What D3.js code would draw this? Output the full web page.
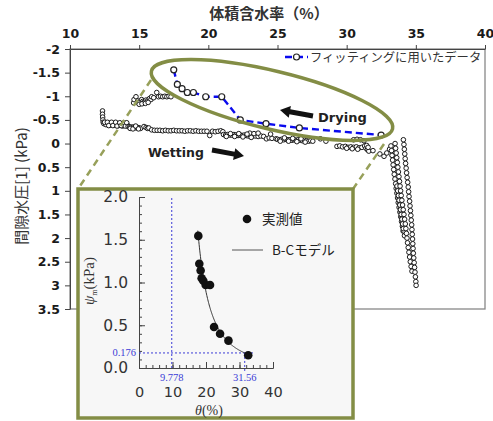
<!DOCTYPE html>
<html>
<head>
<meta charset="utf-8">
<script src="https://cdn.jsdelivr.net/npm/d3@7"></script>
<style>
  body { margin: 0; background: #fff; }
  svg text { font-family: "DejaVu Sans", sans-serif; }
  .jp { font-family: "Noto Sans CJK JP", sans-serif; }
  .serif { font-family: "Liberation Serif", "DejaVu Serif", serif; }
</style>
</head>
<body>
<svg id="chart" width="493" height="421"></svg>
<script>
// ---- data ----
var thetaTicks = [10, 15, 20, 25, 30, 35, 40];
var pressureTicks = [-2, -1.5, -1, -0.5, 0, 0.5, 1, 1.5, 2, 2.5, 3, 3.5];

// points used for the fitting (blue dashed line)
var fitTheta = [17.5, 17.76, 18.1, 18.48, 18.92, 19.81, 20.97, 22.31, 24.17, 26.58, 32.49];
var fitPressure = [-1.56, -1.25, -1.16, -1.08, -1.08, -0.99, -0.99, -0.50, -0.42, -0.33, -0.18];

// measured data (theta %, pore pressure kPa)
var startStack = [[12.35,-0.69],[12.35,-0.62],[12.36,-0.56],[12.38,-0.50],[12.4,-0.45]];
var lowBand = [[12.45,-0.42],[12.55,-0.43],[12.65,-0.42],[12.75,-0.41],[12.85,-0.43],[12.95,-0.42],
  [13.05,-0.41],[13.15,-0.42],[13.25,-0.43],[13.35,-0.41],[13.45,-0.42],[13.55,-0.40],[13.65,-0.42],
  [13.75,-0.41],[13.85,-0.40],[13.95,-0.41],[14.05,-0.42],[14.15,-0.39],[12.6,-0.40],[12.9,-0.39],
  [13.2,-0.39],[13.5,-0.38],[13.8,-0.37],
  [12.5,-0.45],[12.7,-0.45],[12.8,-0.38],[13.0,-0.45],[13.1,-0.38],[13.3,-0.45],[13.4,-0.37],
  [13.6,-0.44],[13.7,-0.38],[13.9,-0.44],[14.0,-0.37],[14.1,-0.44]];
var midBand = [[14.2,-0.36],[14.3,-0.35],[14.4,-0.35],[14.5,-0.34],[14.6,-0.35],[14.7,-0.34],[14.8,-0.33],
  [14.9,-0.34],[15.0,-0.33],[15.1,-0.32],[15.35,-0.36],[15.5,-0.34],[15.6,-0.32],[15.7,-0.33],
  [15.9,-0.29],[16.1,-0.28],[14.35,-0.32],[14.55,-0.31],[14.75,-0.37],[14.95,-0.31]];
var longBand = [[16.3,-0.28],[16.5,-0.28],[16.7,-0.27],[16.9,-0.28],[17.1,-0.27],[17.3,-0.27],[17.5,-0.28],
  [17.7,-0.27],[17.9,-0.27],[18.1,-0.27],[18.3,-0.26],[18.5,-0.27],[18.7,-0.27],[18.9,-0.26],[19.1,-0.27],
  [19.3,-0.26],[19.5,-0.26],[19.7,-0.26],[19.9,-0.26],[20.1,-0.17],[20.3,-0.26],[20.5,-0.25],[20.7,-0.26],
  [20.9,-0.27],[21.05,-0.25]];
var band2 = [[21.1,-0.19],[21.25,-0.18],[21.4,-0.19],[21.55,-0.18],[21.7,-0.18],[21.85,-0.19],[22.0,-0.18],
  [22.15,-0.17],[22.3,-0.18],[22.45,-0.17],[22.6,-0.18],[22.75,-0.17],[22.9,-0.16],[23.05,-0.17],[23.2,-0.16],
  [23.4,-0.16],[23.6,-0.15],[23.8,-0.16],[24.0,-0.15],[24.2,-0.10],[24.4,-0.12],[24.6,-0.11],[24.9,-0.10],
  [23.0,-0.22],[23.3,-0.21],[23.6,-0.22],[24.5,-0.20],
  [21.3,-0.15],[21.6,-0.21],[21.9,-0.15],[22.2,-0.21],[22.5,-0.14],[22.8,-0.20],[23.1,-0.13]];
var band3 = [[25.0,-0.09],[25.15,-0.08],[25.3,-0.09],[25.45,-0.08],[25.6,-0.09],[25.75,-0.08],[25.9,-0.08],
  [26.05,-0.07],[26.2,-0.08],[26.35,-0.07],[26.5,-0.08],[26.65,-0.07],[26.8,-0.06],[26.95,-0.07],[27.1,-0.06],
  [27.25,-0.05],[27.4,-0.06],[27.55,-0.05],[28.1,-0.10],[28.5,-0.05],
  [25.2,-0.05],[25.5,-0.12],[25.8,-0.05],[26.1,-0.11],[26.4,-0.04],[26.7,-0.10],[27.0,-0.03]];
var band4 = [[29.3,0.06],[29.5,0.05],[29.7,0.07],[29.9,0.06],[30.1,0.08],[30.3,0.07],[30.5,0.08],[30.7,0.07],
  [30.9,0.09],[31.1,0.08],[31.3,0.05],[31.4,0.10],[31.5,0.13],[31.6,0.16],[31.9,0.15],
  [30.5,-0.08],[30.75,-0.09],[31.0,-0.08],[31.25,-0.06],
  [30.0,0.10],[30.4,0.11],[30.8,0.12],[31.45,0.04],[31.55,0.08],
  [32.4,0.22],[32.7,0.27],[32.9,0.20],[33.1,0.12],[33.3,0.25]];
var upperStep = [[14.6,-0.86],[14.63,-0.93],[14.77,-0.99],[14.9,-0.90],[14.95,-0.86],[15.05,-0.88],[15.18,-0.93],
  [15.25,-0.89],[15.3,-0.86],[15.4,-0.88],[15.5,-0.92],[15.6,-0.90],[15.74,-0.95],[15.85,-0.93],[15.9,-0.99],
  [16.05,-0.97],[16.27,-1.08],[16.4,-0.99],[16.55,-1.0],[16.7,-0.99],[16.85,-1.0],[17.0,-0.99],[17.15,-1.0],
  [17.3,-0.99],[15.0,-0.83],[15.2,-0.84],[15.45,-0.85],[15.65,-0.87]];
var stripLeft = [[33.20,0.05],[33.24,0.15],[33.28,0.25],[33.32,0.35],[33.36,0.45],[33.40,0.55],[33.44,0.65],
  [33.49,0.75],[33.54,0.85],[33.58,0.95],[33.63,1.05],[33.68,1.15],[33.73,1.25],[33.79,1.35],[33.85,1.45],
  [33.91,1.55],[33.97,1.65],[34.03,1.75],[34.08,1.85],
  [33.70,0.95],[33.75,1.05],[33.80,1.15],[33.85,1.25],[33.90,1.35],[33.95,1.45],[34.00,1.55],[34.05,1.65],
  [34.10,1.75],[34.14,1.85],[34.18,1.95],
  [33.64,0.90],[33.69,1.00],[33.74,1.10],[33.79,1.20],[33.84,1.30],[33.89,1.40],[33.94,1.50],[33.99,1.60],
  [34.04,1.70],[34.09,1.80]];
var stripMid = [[33.50,0.00],[33.54,0.10],[33.58,0.20],[33.62,0.30],[33.66,0.40],[33.70,0.50],[33.74,0.60],
  [33.78,0.70],[33.82,0.80],[33.86,0.90],[33.90,1.00],[33.94,1.10],[33.99,1.20],[34.04,1.30],[34.09,1.40],
  [34.14,1.50],[34.19,1.60],[34.24,1.70],[34.28,1.80],[34.32,1.90],[34.36,2.00],[34.40,2.10],[34.45,2.20],
  [34.50,2.30],[34.55,2.40],[34.60,2.50],[34.66,2.60],[34.72,2.70]];
var stripRight = [[34.10,-0.08],[34.14,0.02],[34.17,0.12],[34.20,0.22],[34.23,0.32],[34.26,0.42],[34.30,0.52],
  [34.33,0.62],[34.37,0.72],[34.41,0.82],[34.45,0.92],[34.48,1.02],[34.51,1.12],[34.55,1.22],[34.58,1.32],
  [34.61,1.42],[34.64,1.52],[34.67,1.62],[34.70,1.72],[34.72,1.82],[34.74,1.92],[34.76,2.02],[34.78,2.12],
  [34.80,2.22],[34.82,2.32],[34.85,2.42],[34.88,2.52],[34.91,2.62],[34.94,2.72],[34.97,2.82],[35.00,2.92],
  [35.02,3.00]];

// inset (suction vs theta)
var insetTheta = [17.7, 18.0, 18.4, 18.7, 19.2, 19.9, 21.2, 22.4, 24.2, 26.7, 32.6];
var insetPsi = [1.545, 1.22, 1.14, 1.05, 1.02, 0.97, 0.97, 0.48, 0.40, 0.32, 0.15];
var insetXTicks = [0, 10, 20, 30, 40];
var insetYTicks = [0, 0.5, 1.0, 1.5, 2.0];
// Brooks-Corey parameters shown in the inset
var psiB = 0.176, thetaR = 9.778, thetaS = 31.56, lambda = 0.466;

var olive = "#838d45";

var svg = d3.select("#chart");

var x = d3.scaleLinear().domain([10, 40]).range([70, 485]);
var y = d3.scaleLinear().domain([-2, 3.5]).range([49, 309]);

// plot frame
svg.append("rect")
  .attr("x", 70).attr("y", 49).attr("width", 415).attr("height", 260)
  .attr("fill", "none").attr("stroke", "#888").attr("stroke-width", 1.3);

// top axis
var topAxis = svg.append("g")
  .attr("transform", "translate(0,49)")
  .call(d3.axisTop(x).tickValues(thetaTicks).tickSize(4).tickSizeOuter(0).tickPadding(7).tickFormat(d => String(d)));
topAxis.selectAll("text").attr("font-size", 12.5).attr("font-weight", "bold").attr("fill", "#1a1a1a")
  .attr("font-family", "DejaVu Sans");
topAxis.selectAll("line,path").attr("stroke", "#444");

var leftAxis = svg.append("g")
  .attr("transform", "translate(70,0)")
  .call(d3.axisLeft(y).tickValues(pressureTicks).tickSize(5).tickSizeOuter(0).tickPadding(5).tickFormat(d => String(d)));
leftAxis.selectAll("text").attr("font-size", 12.5).attr("font-weight", "bold").attr("fill", "#1a1a1a")
  .attr("font-family", "DejaVu Sans");
leftAxis.selectAll("line,path").attr("stroke", "#444");

svg.append("text").attr("class", "jp")
  .attr("x", 269).attr("y", 19).attr("text-anchor", "middle")
  .attr("font-size", 15).attr("font-weight", "bold").attr("fill", "#333")
  .text("体積含水率（%）");

svg.append("text").attr("class", "jp")
  .attr("transform", "translate(27,186) rotate(-90)")
  .attr("text-anchor", "middle").attr("font-size", 15).attr("fill", "#333")
  .text("間隙水圧[1] (kPa)");

// measured points
var measured = [].concat(startStack, lowBand, midBand, longBand, band2, band3, band4, upperStep,
  stripLeft, stripMid, stripRight);
svg.append("g").selectAll("circle")
  .data(measured)
  .enter().append("circle")
  .attr("cx", d => x(d[0]))
  .attr("cy", d => y(d[1]))
  .attr("r", 2.3)
  .attr("fill", "#fff")
  .attr("stroke", "#111")
  .attr("stroke-width", 0.95);

// fitting data
var fitData = fitTheta.map((t, i) => [t, fitPressure[i]]);
svg.append("path")
  .datum(fitData)
  .attr("d", d3.line().x(d => x(d[0])).y(d => y(d[1])))
  .attr("fill", "none").attr("stroke", "#0a0aee").attr("stroke-width", 2.4)
  .attr("stroke-dasharray", "7,4");
svg.append("g").selectAll("circle")
  .data(fitData)
  .enter().append("circle")
  .attr("cx", d => x(d[0]))
  .attr("cy", d => y(d[1]))
  .attr("r", 3)
  .attr("fill", "#fff").attr("stroke", "#222").attr("stroke-width", 1.2);

// legend
svg.append("line").attr("x1", 285).attr("x2", 308).attr("y1", 57).attr("y2", 57)
  .attr("stroke", "#0a0aee").attr("stroke-width", 2.4).attr("stroke-dasharray", "7,4");
svg.append("circle").attr("cx", 296.5).attr("cy", 57).attr("r", 3)
  .attr("fill", "#fff").attr("stroke", "#222").attr("stroke-width", 1.2);
svg.append("text").attr("class", "jp").attr("x", 310).attr("y", 61.5)
  .attr("font-size", 12.3).attr("fill", "#333").text("フィッティングに用いたデータ");

// ellipse and leaders
svg.append("ellipse")
  .attr("cx", 272).attr("cy", 100).attr("rx", 124).attr("ry", 29)
  .attr("transform", "rotate(13.5,272,100)")
  .attr("fill", "none").attr("stroke", olive).attr("stroke-width", 3.5);
svg.append("line").attr("x1", 151).attr("y1", 80).attr("x2", 78).attr("y2", 189)
  .attr("stroke", "#97a05a").attr("stroke-width", 2.5).attr("stroke-dasharray", "7,5");
svg.append("line").attr("x1", 384).attr("y1", 144).attr("x2", 353).attr("y2", 189)
  .attr("stroke", "#97a05a").attr("stroke-width", 2.5).attr("stroke-dasharray", "7,5");

// arrows
function arrow(x1, y1, x2, y2) {
  var len = Math.hypot(x2 - x1, y2 - y1);
  var ang = Math.atan2(y2 - y1, x2 - x1) * 180 / Math.PI;
  var pts = [[0, -2.5], [len - 10, -2.5], [len - 10, -6], [len, 0], [len - 10, 6], [len - 10, 2.5], [0, 2.5]];
  svg.append("polygon")
    .attr("points", pts.map(p => p.join(",")).join(" "))
    .attr("transform", "translate(" + x1 + "," + y1 + ") rotate(" + ang + ")")
    .attr("fill", "#111");
}
arrow(313, 116, 280, 110);
arrow(212, 150, 244, 156);

svg.append("text").attr("x", 318).attr("y", 122).attr("font-size", 13).attr("font-weight", "bold")
  .attr("fill", "#222").text("Drying");
svg.append("text").attr("x", 148).attr("y", 157).attr("font-size", 12.5).attr("font-weight", "bold")
  .attr("fill", "#222").text("Wetting");

// ---- inset ----
var inset = svg.append("g");
inset.append("rect")
  .attr("x", 78).attr("y", 189).attr("width", 275).attr("height", 229)
  .attr("fill", "#f7f7f7").attr("stroke", olive).attr("stroke-width", 3.5);

var ix = d3.scaleLinear().domain([0, 40]).range([139, 273]);
var iy = d3.scaleLinear().domain([0, 2]).range([368, 197]);

var ixAxis = inset.append("g")
  .attr("transform", "translate(0,368)")
  .call(d3.axisBottom(ix).tickValues(insetXTicks).tickSize(-6).tickSizeOuter(0).tickPadding(18.5));
inset.append("g").attr("transform", "translate(0,368)")
  .call(d3.axisBottom(ix).tickValues(d3.range(0, 41, 2)).tickSize(-3).tickFormat("").tickSizeOuter(0));
var iyAxis = inset.append("g")
  .attr("transform", "translate(139,0)")
  .call(d3.axisLeft(iy).tickValues(insetYTicks).tickSize(-6).tickSizeOuter(0).tickPadding(11)
    .tickFormat(d3.format(".1f")));
inset.append("g").attr("transform", "translate(139,0)")
  .call(d3.axisLeft(iy).tickValues(d3.range(0, 2.01, 0.1)).tickSize(-3).tickFormat("").tickSizeOuter(0));
inset.selectAll(".tick text").attr("fill", "#333").attr("font-family", "Liberation Serif");
ixAxis.selectAll(".tick text").attr("font-size", 14.5);
iyAxis.selectAll(".tick text").attr("font-size", 15.5);
inset.selectAll("line,path").attr("stroke", "#444");

// guide lines
var blue = "#3b3bd6";
inset.append("line").attr("x1", ix(thetaR)).attr("x2", ix(thetaR)).attr("y1", iy(0)).attr("y2", iy(2))
  .attr("stroke", blue).attr("stroke-width", 1).attr("stroke-dasharray", "2,2");
inset.append("line").attr("x1", ix(0)).attr("x2", ix(34.6)).attr("y1", iy(psiB)).attr("y2", iy(psiB))
  .attr("stroke", blue).attr("stroke-width", 1).attr("stroke-dasharray", "2,2");
inset.append("line").attr("x1", ix(thetaS)).attr("x2", ix(thetaS)).attr("y1", iy(psiB)).attr("y2", iy(0) + 3)
  .attr("stroke", blue).attr("stroke-width", 1).attr("stroke-dasharray", "2,2");
inset.append("text").attr("class", "serif").attr("x", 136).attr("y", iy(psiB) + 3.5)
  .attr("text-anchor", "end").attr("font-size", 10.5).attr("fill", blue).text("0.176");
inset.append("text").attr("class", "serif").attr("x", ix(thetaR)).attr("y", 381)
  .attr("text-anchor", "middle").attr("font-size", 10.5).attr("fill", blue).text("9.778");
inset.append("text").attr("class", "serif").attr("x", ix(thetaS)).attr("y", 381)
  .attr("text-anchor", "middle").attr("font-size", 10.5).attr("fill", blue).text("31.56");

// B-C model curve
var model = d3.range(17.55, thetaS + 0.001, 0.1).map(function(t) {
  var se = (t - thetaR) / (thetaS - thetaR);
  return [t, psiB * Math.pow(se, -1 / lambda)];
});
model.push([thetaS, psiB]);
inset.append("path").datum(model)
  .attr("d", d3.line().x(d => ix(d[0])).y(d => iy(d[1])))
  .attr("fill", "none").attr("stroke", "#333").attr("stroke-width", 1);

inset.append("g").selectAll("circle")
  .data(insetTheta.map((t, i) => [t, insetPsi[i]]))
  .enter().append("circle")
  .attr("cx", d => ix(d[0])).attr("cy", d => iy(d[1])).attr("r", 4.3)
  .attr("fill", "#111");

// inset legend
inset.append("circle").attr("cx", 247).attr("cy", 219).attr("r", 4.3).attr("fill", "#111");
inset.append("text").attr("class", "jp").attr("x", 262).attr("y", 224)
  .attr("font-size", 13.5).attr("fill", "#222").text("実測値");
inset.append("line").attr("x1", 232).attr("x2", 263).attr("y1", 250).attr("y2", 250)
  .attr("stroke", "#555").attr("stroke-width", 1);
inset.append("text").attr("class", "jp").attr("x", 272).attr("y", 255)
  .attr("font-size", 13.5).attr("fill", "#222").text("B-Cモデル");

// inset axis titles
var yl = inset.append("text").attr("class", "serif")
  .attr("transform", "translate(94,281) rotate(-90)")
  .attr("text-anchor", "middle").attr("font-size", 15).attr("fill", "#333");
yl.append("tspan").attr("font-style", "italic").text("ψ");
yl.append("tspan").attr("font-size", 8).attr("dy", 3).text("m");
yl.append("tspan").attr("dy", -3).text("(kPa)");

var xl = inset.append("text").attr("class", "serif")
  .attr("x", 209).attr("y", 414.5).attr("text-anchor", "middle")
  .attr("font-size", 14).attr("fill", "#333");
xl.append("tspan").attr("font-style", "italic").text("θ");
xl.append("tspan").text("(%)");
</script>
</body>
</html>
